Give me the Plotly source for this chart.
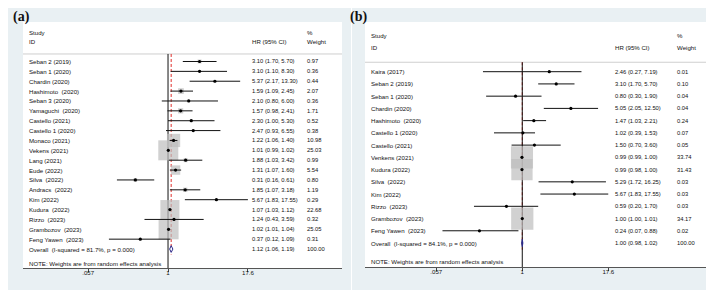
import plotly.graph_objects as go

W, H = 714, 290

# ---------------- data: panel (a) ----------------
studies_a = ["Seban 2 (2019)", "Seban 1 (2020)", "Chardin (2020)", "Hashimoto\u00a0 (2020)",
             "Seban 3 (2020)", "Yamaguchi\u00a0 (2020)", "Castello (2021)", "Castello 1 (2020)",
             "Monaco (2021)", "Vekens (2021)", "Lang (2021)", "Eude (2022)", "Silva\u00a0 (2022)",
             "Andracs\u00a0 (2022)", "Kim (2022)", "Kudura\u00a0 (2022)", "Rizzo\u00a0 (2023)",
             "Grambozov\u00a0 (2023)", "Feng Yawen\u00a0 (2023)"]
hr_a = [3.10, 3.10, 5.37, 1.59, 2.10, 1.57, 2.30, 2.47, 1.22, 1.01, 1.88, 1.31, 0.31, 1.85, 5.67, 1.07, 1.24, 1.02, 0.37]
lo_a = [1.70, 1.10, 2.17, 1.09, 0.80, 0.98, 1.00, 0.93, 1.06, 0.99, 1.03, 1.07, 0.16, 1.07, 1.83, 1.03, 0.43, 1.01, 0.12]
hi_a = [5.70, 8.30, 13.30, 2.45, 6.00, 2.41, 5.30, 6.55, 1.40, 1.02, 3.42, 1.60, 0.61, 3.18, 17.55, 1.12, 3.59, 1.04, 1.09]
w_a = [0.97, 0.36, 0.44, 2.07, 0.36, 1.71, 0.52, 0.38, 10.98, 25.03, 0.99, 5.54, 0.80, 1.19, 0.29, 22.68, 0.32, 25.05, 0.31]
overall_a = [1.12, 1.06, 1.19]
overall_label_a = "Overall\u00a0 (I-squared = 81.7%, p = 0.000)"

# ---------------- data: panel (b) ----------------
studies_b = ["Kaira (2017)", "Seban 2 (2019)", "Seban 1 (2020)", "Chardin (2020)", "Hashimoto\u00a0 (2020)",
             "Castello 1 (2020)", "Castello (2021)", "Venkens (2021)", "Kudura (2022)", "Silva\u00a0 (2022)",
             "Kim (2022)", "Rizzo\u00a0 (2023)", "Grambozov\u00a0 (2023)", "Feng Yawen\u00a0 (2023)"]
hr_b = [2.46, 3.10, 0.80, 5.05, 1.47, 1.02, 1.50, 0.99, 0.99, 5.29, 5.67, 0.59, 1.00, 0.24]
lo_b = [0.27, 1.70, 0.30, 2.05, 1.03, 0.39, 0.70, 0.99, 0.98, 1.72, 1.83, 0.20, 1.00, 0.07]
hi_b = [7.19, 5.70, 1.90, 12.50, 2.21, 1.53, 3.60, 1.00, 1.00, 16.25, 17.55, 1.70, 1.01, 0.88]
w_b = [0.01, 0.10, 0.04, 0.04, 0.24, 0.07, 0.05, 33.74, 31.43, 0.03, 0.03, 0.03, 34.17, 0.02]
overall_b = [1.00, 0.98, 1.02]
overall_label_b = "Overall\u00a0 (I-squared = 84.1%, p = 0.000)"

tick_vals = [0.057, 1, 17.6]
tick_text = [".057", "1", "17.6"]
note_text = "NOTE: Weights are from random effects analysis"

# ---------------- styling ----------------
FONT = "Liberation Sans, Arial, sans-serif"
BG = "#E9F0F3"
TXT = "#111111"
BOX = "#BDBDBD"
DIAM = "#2B2B8C"


def px(x):
    return x / W


def py(y):
    return 1 - y / H


fig = go.Figure()
annotations = []
shapes = []

panels = [
    dict(xa="x", ya="y", studies=studies_a, hr=hr_a, lo=lo_a, hi=hi_a, w=w_a, ov=overall_a,
         ovlab=overall_label_a, box_k=4.0, sep=-0.76, note=20.5, hdr=(-2.9, -2.0), bottom=20.92,
         xname=20, xhr=243, xw=298, diam_h=0.34, diam_fill="white"),
    dict(xa="x2", ya="y2", studies=studies_b, hr=hr_b, lo=lo_b, hi=hi_b, w=w_b, ov=overall_b,
         ovlab=overall_label_b, box_k=3.8, sep=-0.77, note=15.5, hdr=(-2.92, -1.94), bottom=15.96,
         xname=361.5, xhr=606, xw=667.5, diam_h=0.3, diam_fill=DIAM),
]

for p in panels:
    n = len(p["studies"])
    rows = list(range(n))
    ovr = n
    xa, ya = p["xa"], p["ya"]
    # overall (dashed) line and null line
    fig.add_trace(go.Scatter(x=[p["ov"][0], p["ov"][0]], y=[p["sep"], ovr + 0.55], mode="lines",
                             line=dict(color="#E0302B", width=1, dash="3px,2px"),
                             xaxis=xa, yaxis=ya, hoverinfo="skip", showlegend=False))
    fig.add_trace(go.Scatter(x=[1, 1], y=[p["sep"], p["bottom"]], mode="lines",
                             line=dict(color="#111", width=1),
                             xaxis=xa, yaxis=ya, hoverinfo="skip", showlegend=False))
    # weight boxes
    fig.add_trace(go.Scatter(x=p["hr"], y=rows, mode="markers",
                             marker=dict(symbol="square", color=BOX,
                                         size=[p["box_k"] * (w ** 0.5) for w in p["w"]],
                                         line=dict(width=0)),
                             xaxis=xa, yaxis=ya, hoverinfo="skip", showlegend=False))
    # CI lines
    cx, cy = [], []
    for r, lo, hi in zip(rows, p["lo"], p["hi"]):
        cx += [lo, hi, None]
        cy += [r, r, None]
    fig.add_trace(go.Scatter(x=cx, y=cy, mode="lines", line=dict(color="#111", width=1),
                             xaxis=xa, yaxis=ya, hoverinfo="skip", showlegend=False))
    # point estimates
    fig.add_trace(go.Scatter(x=p["hr"], y=rows, mode="markers",
                             marker=dict(symbol="circle", color="#000", size=3.2, line=dict(width=0)),
                             xaxis=xa, yaxis=ya, hoverinfo="skip", showlegend=False))
    # overall diamond
    est, olo, ohi = p["ov"]
    h = p["diam_h"]
    fig.add_trace(go.Scatter(x=[olo, est, ohi, est, olo], y=[ovr, ovr - h, ovr, ovr + h, ovr],
                             mode="lines", fill="toself", fillcolor=p["diam_fill"],
                             line=dict(color=DIAM, width=1),
                             xaxis=xa, yaxis=ya, hoverinfo="skip", showlegend=False))

    yref = ya
    def ann(x, y, text, size=6.1):
        annotations.append(dict(x=px(x), y=y, xref="paper", yref=yref, text=text, showarrow=False,
                                xanchor="left", yanchor="middle", borderpad=0,
                                font=dict(family=FONT, size=size, color=TXT)))

    ann(p["xname"], p["hdr"][0], "Study")
    ann(p["xname"], p["hdr"][1], "ID")
    ann(p["xhr"], p["hdr"][1], "HR (95% CI)")
    ann(p["xw"], p["hdr"][0], "%")
    ann(p["xw"], p["hdr"][1], "Weight")
    for r, s, hr, lo, hi, w in zip(rows, p["studies"], p["hr"], p["lo"], p["hi"], p["w"]):
        ann(p["xname"], r, s)
        ann(p["xhr"], r, f"{hr:.2f} ({lo:.2f}, {hi:.2f})", 5.8)
        ann(p["xw"], r, f"{w:.2f}", 5.8)
    ann(p["xname"], ovr, p["ovlab"])
    ann(p["xhr"], ovr, f"{est:.2f} ({olo:.2f}, {ohi:.2f})", 5.8)
    ann(p["xw"], ovr, "100.00", 5.8)
    ann(p["xname"], p["note"], note_text)

# background panels (grey-blue graph regions + white plot regions)
shapes += [
    dict(type="rect", xref="paper", yref="paper", x0=px(0), x1=px(343), y0=py(287), y1=py(0),
         fillcolor=BG, line=dict(width=0), layer="below"),
    dict(type="rect", xref="paper", yref="paper", x0=px(344), x1=px(714), y0=py(290), y1=py(0),
         fillcolor=BG, line=dict(width=0), layer="below"),
    dict(type="rect", xref="paper", yref="paper", x0=px(15), x1=px(334), y0=py(260), y1=py(14),
         fillcolor="white", line=dict(width=0), layer="below"),
    dict(type="rect", xref="paper", yref="paper", x0=px(357), x1=px(702.5), y0=py(259), y1=py(14),
         fillcolor="white", line=dict(width=0), layer="below"),
    # header separators
    dict(type="line", xref="paper", yref="y", x0=px(15), x1=px(334), y0=-0.76, y1=-0.76,
         line=dict(color="#CFCFCF", width=1), layer="below"),
    dict(type="line", xref="paper", yref="y2", x0=px(357), x1=px(702.5), y0=-0.77, y1=-0.77,
         line=dict(color="#CFCFCF", width=1), layer="below"),
]

# panel labels
for lab, x in [("(a)", 13), ("(b)", 350)]:
    annotations.append(dict(x=px(x), y=py(9), xref="paper", yref="paper", text=f"<b>{lab}</b>",
                            showarrow=False, xanchor="center", yanchor="middle",
                            font=dict(family="Liberation Serif, Times New Roman, serif", size=14, color="#111")))

xcommon = dict(type="log", tickvals=tick_vals, ticktext=tick_text, ticks="outside", ticklen=3,
               tickcolor="#444", tickwidth=1, showline=True, linecolor="#555", linewidth=1,
               showgrid=False, zeroline=False, fixedrange=True, ticklabelstandoff=-4,
               tickfont=dict(family=FONT, size=6.1, color=TXT))
ycommon = dict(showgrid=False, zeroline=False, showticklabels=False, ticks="", showline=False,
               fixedrange=True)

fig.update_layout(
    width=W, height=H, margin=dict(l=0, r=0, t=0, b=0),
    paper_bgcolor="white", plot_bgcolor="rgba(0,0,0,0)", showlegend=False,
    xaxis=dict(domain=[px(15), px(334)], range=[-2.259, 2.710], anchor="y", **xcommon),
    yaxis=dict(domain=[py(260), py(14)], range=[20.92, -4.0], anchor="x", **ycommon),
    xaxis2=dict(domain=[px(357), px(702.5)], range=[-2.276, 2.724], anchor="y2", **xcommon),
    yaxis2=dict(domain=[py(259), py(14)], range=[15.96, -4.06], anchor="x2", **ycommon),
    annotations=annotations, shapes=shapes,
)

fig.write_html("out.html")
